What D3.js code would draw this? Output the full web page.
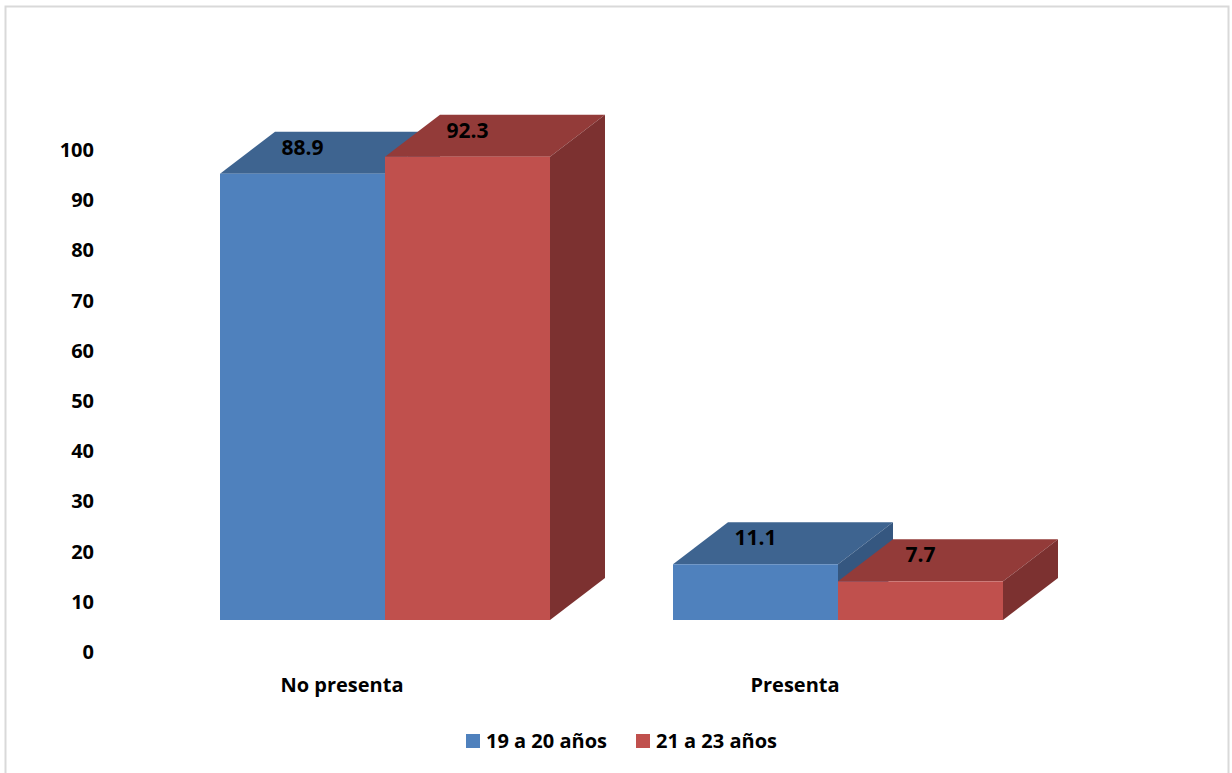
<!DOCTYPE html>
<html>
<head>
<meta charset="utf-8">
<script src="https://cdn.jsdelivr.net/npm/d3@7/dist/d3.min.js"></script>
<style>
  html, body { margin: 0; padding: 0; background: #fff; }
  svg { display: block; }
  text { font-family: "Open Sans", "Liberation Sans", sans-serif; font-weight: bold; fill: #000; }
</style>
</head>
<body>
<svg id="chart" width="1232" height="773"></svg>
<script>
// ---- data ----
const categories = ["No presenta", "Presenta"];
const seriesNames = ["19 a 20 años", "21 a 23 años"];
const values1920 = [88.9, 11.1];
const values2123 = [92.3, 7.7];
const yTicks = [0, 10, 20, 30, 40, 50, 60, 70, 80, 90, 100];

// ---- styles ----
const colors = {
  front: ["#4F81BD", "#C0504D"],
  top:   ["#3E6490", "#933B39"],
  side:  ["#355780", "#7C3130"]
};

const svg = d3.select("#chart");

// frame
svg.append("rect")
  .attr("x", 5.5).attr("y", 6.5)
  .attr("width", 1223).attr("height", 800)
  .attr("fill", "none").attr("stroke", "#D9D9D9").attr("stroke-width", 2);

// scales
const x0 = d3.scaleBand().domain(categories).range([220, 1003])
  .paddingInner(123 / 453).paddingOuter(0);
const x1 = d3.scaleBand().domain(seriesNames).range([0, x0.bandwidth()]).padding(0);
const yFront = d3.scaleLinear().domain([0, 100]).range([620, 118]);
const yAxisScale = d3.scaleLinear().domain([0, 100]).range([652, 150]);

const depthX = 55, depthY = -42;

// axis labels (no line)
const yAxis = d3.axisLeft(yAxisScale).tickValues(yTicks).tickSize(0).tickPadding(0);
const gAxis = svg.append("g").attr("transform", "translate(94,0)").call(yAxis);
gAxis.select(".domain").remove();
gAxis.selectAll("text")
  .style("font-family", '"Open Sans", "Liberation Sans", sans-serif')
  .style("font-weight", "bold")
  .style("font-size", "20px")
  .attr("fill", "#000");

// bars
const data = [];
categories.forEach((c, i) => {
  data.push({ cat: c, s: 0, v: values1920[i] });
  data.push({ cat: c, s: 1, v: values2123[i] });
});

const gBars = svg.append("g");
data.forEach(d => {
  const xl = x0(d.cat) + x1(seriesNames[d.s]);
  const xr = xl + x1.bandwidth();
  const yt = yFront(d.v);
  const yb = yFront(0);
  const pts = a => a.map(p => p.join(",")).join(" ");
  // top
  gBars.append("polygon")
    .attr("points", pts([[xl, yt], [xr, yt], [xr + depthX, yt + depthY], [xl + depthX, yt + depthY]]))
    .attr("fill", colors.top[d.s]);
  // side
  gBars.append("polygon")
    .attr("points", pts([[xr, yt], [xr + depthX, yt + depthY], [xr + depthX, yb + depthY], [xr, yb]]))
    .attr("fill", colors.side[d.s]);
  // front
  gBars.append("rect")
    .attr("x", xl).attr("y", yt)
    .attr("width", xr - xl).attr("height", yb - yt)
    .attr("fill", colors.front[d.s]);
});

// value labels
svg.append("g").selectAll("text").data(data).join("text")
  .attr("x", d => x0(d.cat) + x1(seriesNames[d.s]) + x1.bandwidth() / 2)
  .attr("y", d => yFront(d.v) - 19)
  .attr("text-anchor", "middle")
  .style("font-size", "21px")
  .text(d => d.v.toFixed(1));

// category labels
svg.append("g").selectAll("text").data(categories).join("text")
  .attr("x", d => x0(d) + x0.bandwidth() / 2 - 43)
  .attr("y", 692)
  .attr("text-anchor", "middle")
  .style("font-size", "20px")
  .text(d => d);

// legend
const legendX = [466, 636];
const lg = svg.append("g");
seriesNames.forEach((n, i) => {
  lg.append("rect").attr("x", legendX[i]).attr("y", 734)
    .attr("width", 14).attr("height", 14).attr("fill", colors.front[i]);
  lg.append("text").attr("x", legendX[i] + 20).attr("y", 748)
    .style("font-size", "20px").text(n);
});
</script>
</body>
</html>
